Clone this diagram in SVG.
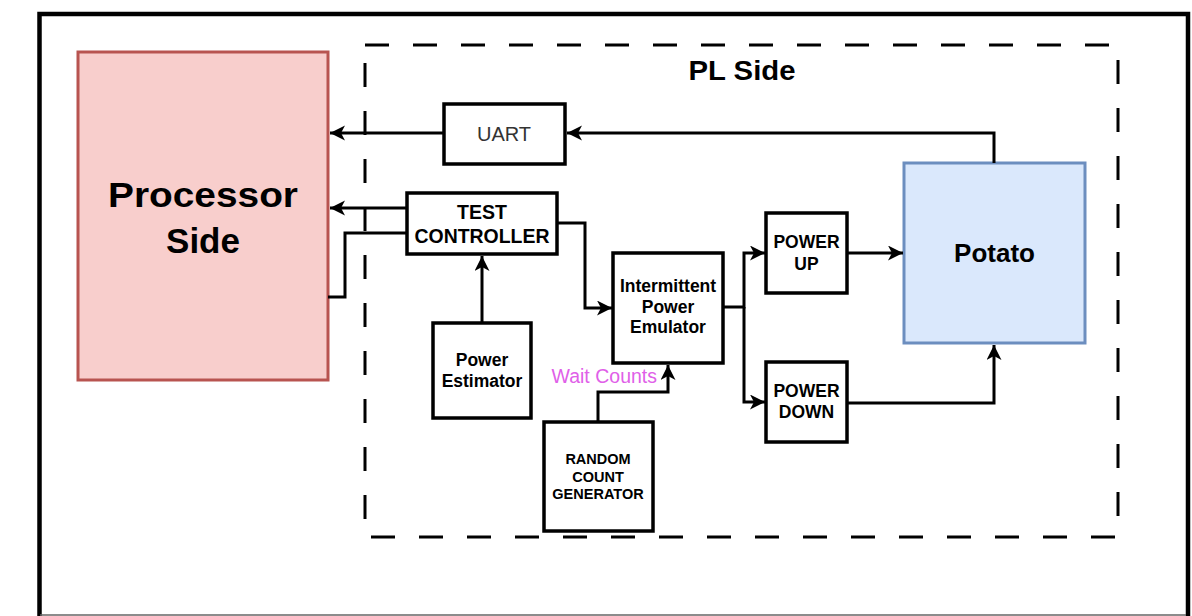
<svg xmlns="http://www.w3.org/2000/svg" width="1192" height="616" viewBox="0 0 1192 616">
<defs>
<marker id="arr" markerUnits="userSpaceOnUse" markerWidth="18" markerHeight="18" refX="15" refY="7.5" orient="auto">
<path d="M0,0 L15,7.5 L0,15 L4,7.5 Z" fill="#000"/>
</marker>
<style>
text{font-family:"Liberation Sans",Arial,Helvetica,sans-serif;text-anchor:middle;fill:#000}
.b{font-weight:bold}
.box{fill:#fff;stroke:#000;stroke-width:3.5}
.ln{fill:none;stroke:#000;stroke-width:3}
</style>
</defs>
<rect width="1192" height="616" fill="#fff"/>
<g id="frame">
<path d="M39.5,616 V14 H1188 V616" fill="none" stroke="#000" stroke-width="4.5"/>
<line x1="40" y1="615" x2="1186" y2="615" stroke="#666" stroke-width="1.5"/>
</g>
<g id="pl-side">
<rect x="365" y="45" width="753" height="492" fill="none" stroke="#000" stroke-width="3" stroke-dasharray="24 24"/>
<text x="742" y="80" class="b" font-size="28" textLength="107" lengthAdjust="spacingAndGlyphs">PL Side</text>
</g>
<g id="processor">
<rect x="78" y="52" width="250" height="328" fill="#f8cecc" stroke="#b85450" stroke-width="3"/>
<text x="203" y="207" class="b" font-size="35" textLength="190" lengthAdjust="spacingAndGlyphs">Processor</text>
<text x="203" y="253" class="b" font-size="35">Side</text>
</g>
<g id="uart">
<rect x="444" y="104" width="121" height="60" class="box"/>
<text x="504" y="141" font-size="20" style="fill:#333">UART</text>
</g>
<g id="test-controller">
<rect x="407" y="193" width="150" height="61" class="box"/>
<text x="482" y="219" class="b" font-size="19.5">TEST</text>
<text x="482" y="243" class="b" font-size="19.5" textLength="135" lengthAdjust="spacingAndGlyphs">CONTROLLER</text>
</g>
<g id="power-estimator">
<rect x="433" y="323" width="98" height="95" class="box"/>
<text x="482" y="366" class="b" font-size="17.5">Power</text>
<text x="482" y="387" class="b" font-size="17.5">Estimator</text>
</g>
<g id="ipe">
<rect x="613" y="253" width="110" height="110" class="box"/>
<text x="668" y="292" class="b" font-size="17.5">Intermittent</text>
<text x="668" y="313" class="b" font-size="17.5">Power</text>
<text x="668" y="333" class="b" font-size="17.5">Emulator</text>
</g>
<g id="rcg">
<rect x="544" y="422" width="109" height="109" class="box"/>
<text x="598" y="464" class="b" font-size="14.5">RANDOM</text>
<text x="598" y="482" class="b" font-size="14.5">COUNT</text>
<text x="598" y="499" class="b" font-size="14.5">GENERATOR</text>
</g>
<g id="power-up">
<rect x="766" y="213" width="81" height="80" class="box"/>
<text x="806.5" y="248" class="b" font-size="17.5">POWER</text>
<text x="806.5" y="270" class="b" font-size="17.5">UP</text>
</g>
<g id="power-down">
<rect x="766" y="362" width="81" height="80" class="box"/>
<text x="806.5" y="397" class="b" font-size="17.5">POWER</text>
<text x="806.5" y="418" class="b" font-size="17.5">DOWN</text>
</g>
<g id="potato">
<rect x="904" y="163" width="181" height="180" fill="#dae8fc" stroke="#6c8ebf" stroke-width="3"/>
<text x="994.5" y="262" class="b" font-size="26">Potato</text>
</g>
<g id="connectors">
<path class="ln" d="M994,163 V133 H567" marker-end="url(#arr)"/>
<path class="ln" d="M444,133 H330" marker-end="url(#arr)"/>
<path class="ln" d="M407,208 H330" marker-end="url(#arr)"/>
<path class="ln" d="M407,233 H345 V297 H328"/>
<path class="ln" d="M557,223 H585 V308 H612" marker-end="url(#arr)"/>
<path class="ln" d="M482,323 V256" marker-end="url(#arr)"/>
<path class="ln" d="M598,422 V392 H668 V365" marker-end="url(#arr)"/>
<path class="ln" d="M723,307 H744 V253 H765" marker-end="url(#arr)"/>
<path class="ln" d="M744,307 V402 H765" marker-end="url(#arr)"/>
<path class="ln" d="M847,253 H903" marker-end="url(#arr)"/>
<path class="ln" d="M847,403 H994 V345" marker-end="url(#arr)"/>
<text x="657" y="383" font-size="19.5" style="fill:#e060e8;text-anchor:end">Wait Counts</text>
</g>
</svg>
